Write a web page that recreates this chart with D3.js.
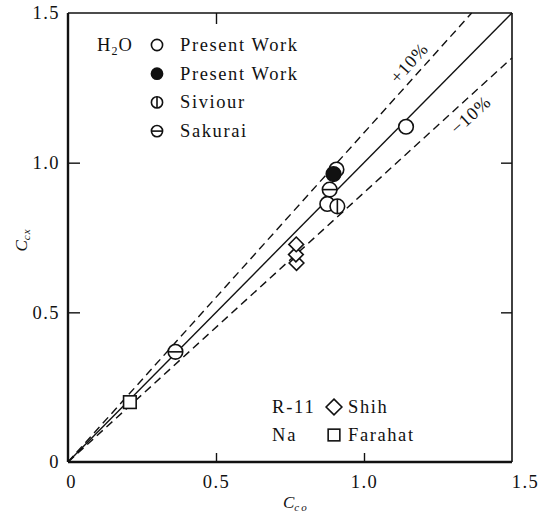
<!DOCTYPE html>
<html><head><meta charset="utf-8">
<script src="https://cdn.jsdelivr.net/npm/d3@7/dist/d3.min.js"></script>
<style>body{margin:0;background:#fff}svg{display:block}text{font-family:"Liberation Serif","DejaVu Serif",serif;fill:#111}</style>
</head><body>
<script>
// ---- data ----
const tickValues = [0, 0.5, 1.0, 1.5];
const tickLabels = ["0", "0.5", "1.0", "1.5"];
const presentOpen = [[1.142, 1.120], [0.876, 0.862], [0.907, 0.977]];
const presentFilled = [[0.897, 0.962]];
const siviour = [[0.910, 0.854]];
const sakurai = [[0.884, 0.910], [0.363, 0.368]];
const shih = [[0.772, 0.665], [0.770, 0.693], [0.771, 0.727]];
const farahat = [[0.209, 0.200]];
const refLines = [{k: 1.0, label: ""}, {k: 1.1, label: "+10%"}, {k: 0.9, label: "\u221210%"}];
const legendTop = [{sym: "open", text: "Present Work"}, {sym: "filled", text: "Present Work"}, {sym: "siviour", text: "Siviour"}, {sym: "sakurai", text: "Sakurai"}];
const legendBottom = [{fluid: "R-11", sym: "diamond", text: "Shih"}, {fluid: "Na", sym: "square", text: "Farahat"}];

const W = 539, H = 513;
const svg = d3.select("body").append("svg").attr("width", W).attr("height", H);
const x = d3.scaleLinear().domain([0, 1.5]).range([68, 512]);
const y = d3.scaleLinear().domain([0, 1.5]).range([462, 13]);
const fmt = d => tickLabels[tickValues.indexOf(d)];

// axes
const gx = svg.append("g").attr("transform", `translate(0,${y(0)})`)
  .call(d3.axisBottom(x).tickValues(tickValues).tickFormat(fmt).tickSizeInner(-9).tickSizeOuter(0).tickPadding(13));
const gy = svg.append("g").attr("transform", `translate(${x(0)},0)`)
  .call(d3.axisLeft(y).tickValues(tickValues).tickFormat(fmt).tickSizeInner(-12).tickSizeOuter(0).tickPadding(8));
const gt = svg.append("g").attr("transform", `translate(0,${y(1.5)})`)
  .call(d3.axisTop(x).tickValues([0.5]).tickFormat("").tickSizeInner(-11).tickSizeOuter(0));
const gr = svg.append("g").attr("transform", `translate(${x(1.5)},0)`)
  .call(d3.axisRight(y).tickValues([0.5, 1.0]).tickFormat("").tickSizeInner(-11).tickSizeOuter(0));
[gx, gy, gt, gr].forEach(g => {
  g.select(".domain").remove();
  g.selectAll(".tick line").attr("stroke", "#111").attr("stroke-width", 1.4)
    .filter(d => d === 0 || d === 1.5).remove();
  g.selectAll(".tick text").attr("font-size", 18.5).attr("letter-spacing", 1.5)
    .attr("font-family", "Liberation Serif").attr("fill", "#111");
});
gx.selectAll(".tick text").filter(d => d === 1.5).attr("dx", 13);
gx.selectAll(".tick text").filter(d => d === 0).attr("dx", 3);

// frame
svg.append("line").attr("x1", x(0)).attr("x2", x(1.5)).attr("y1", y(1.5)).attr("y2", y(1.5)).attr("stroke", "#111").attr("stroke-width", 1.6);
svg.append("line").attr("x1", x(1.5)).attr("x2", x(1.5)).attr("y1", y(0)).attr("y2", y(1.5)).attr("stroke", "#111").attr("stroke-width", 1.6);
svg.append("line").attr("x1", x(0)).attr("x2", x(1.5)).attr("y1", y(0)).attr("y2", y(0)).attr("stroke", "#111").attr("stroke-width", 2.4);
svg.append("line").attr("x1", x(0)).attr("x2", x(0)).attr("y1", y(0)).attr("y2", y(1.5)).attr("stroke", "#111").attr("stroke-width", 2.4);

// reference lines
refLines.forEach(r => {
  const xe = Math.min(1.5, 1.5 / r.k);
  svg.append("line").attr("x1", x(0)).attr("y1", y(0)).attr("x2", x(xe)).attr("y2", y(r.k * xe))
    .attr("stroke", "#111").attr("stroke-width", 1.4)
    .attr("stroke-dasharray", r.k === 1 ? null : "8,5");
});
const ang = k => -Math.atan((y(0) - y(k)) / (x(1) - x(0))) * 180 / Math.PI;
svg.append("text").attr("transform", `translate(${x(1.152)},${y(1.1 * 1.152) - 20}) rotate(${ang(1.1)})`)
  .attr("text-anchor", "middle").attr("dy", "0.35em").attr("font-size", 18).attr("letter-spacing", 1).text(refLines[1].label);
svg.append("text").attr("transform", `translate(${x(1.36)},${y(0.9 * 1.36) + 19}) rotate(${ang(0.9)})`)
  .attr("text-anchor", "middle").attr("dy", "0.35em").attr("font-size", 18).attr("letter-spacing", 1).text(refLines[2].label);

// symbols
function drawSym(g, type, cx, cy, r) {
  if (type === "open" || type === "filled" || type === "siviour" || type === "sakurai") {
    g.append("circle").attr("cx", cx).attr("cy", cy).attr("r", r)
      .attr("fill", type === "filled" ? "#111" : "#fff").attr("stroke", "#111").attr("stroke-width", 1.6);
    if (type === "siviour") g.append("line").attr("x1", cx).attr("x2", cx).attr("y1", cy - r).attr("y2", cy + r).attr("stroke", "#111").attr("stroke-width", 1.6);
    if (type === "sakurai") g.append("line").attr("x1", cx - r).attr("x2", cx + r).attr("y1", cy).attr("y2", cy).attr("stroke", "#111").attr("stroke-width", 1.6);
  } else if (type === "diamond") {
    const s = r * 1.05;
    g.append("path").attr("d", `M${cx},${cy - s}L${cx + s},${cy}L${cx},${cy + s}L${cx - s},${cy}Z`)
      .attr("fill", "#fff").attr("stroke", "#111").attr("stroke-width", 1.6);
  } else if (type === "square") {
    const s = r * 0.9;
    g.append("rect").attr("x", cx - s).attr("y", cy - s).attr("width", 2 * s).attr("height", 2 * s)
      .attr("fill", "#fff").attr("stroke", "#111").attr("stroke-width", 1.6);
  }
}
const pts = svg.append("g");
const R = 7.3;
farahat.forEach(d => drawSym(pts, "square", x(d[0]), y(d[1]), 7));
shih.forEach(d => drawSym(pts, "diamond", x(d[0]), y(d[1]), 7));
sakurai.forEach(d => drawSym(pts, "sakurai", x(d[0]), y(d[1]), R));
presentOpen.forEach(d => drawSym(pts, "open", x(d[0]), y(d[1]), R));
siviour.forEach(d => drawSym(pts, "siviour", x(d[0]), y(d[1]), R));
presentFilled.forEach(d => drawSym(pts, "filled", x(d[0]), y(d[1]), R));

// legend top
const lg = svg.append("g");
lg.append("text").attr("x", 97).attr("y", 51).attr("font-size", 18.5).attr("letter-spacing", 1)
  .html('H<tspan font-size="12" dy="4">2</tspan><tspan dy="-4">O</tspan>');
legendTop.forEach((d, i) => {
  const cy = 45 + 28.7 * i;
  drawSym(lg, d.sym, 157, cy, 5.6);
  lg.append("text").attr("x", 180).attr("y", cy + 6).attr("font-size", 18.5).attr("letter-spacing", 1.6).text(d.text);
});
legendBottom.forEach((d, i) => {
  const cy = 407 + 28 * i;
  lg.append("text").attr("x", 272).attr("y", cy + 6).attr("font-size", 18.5).attr("letter-spacing", 1.8).text(d.fluid);
  drawSym(lg, d.sym, 334, cy, d.sym === "diamond" ? 7.5 : 6.5);
  lg.append("text").attr("x", 348).attr("y", cy + 6).attr("font-size", 18.5).attr("letter-spacing", 1.6).text(d.text);
});

// axis titles
svg.append("text").attr("x", 283).attr("y", 508).attr("font-size", 17).attr("font-style", "italic")
  .html('C<tspan font-size="11" dy="3" letter-spacing="2">co</tspan>');
svg.append("text").attr("transform", "translate(27,240) rotate(-90)").attr("text-anchor", "middle")
  .attr("font-size", 17).attr("font-style", "italic")
  .html('C<tspan font-size="11" dy="3" letter-spacing="1">cx</tspan>');
</script>
</body></html>
